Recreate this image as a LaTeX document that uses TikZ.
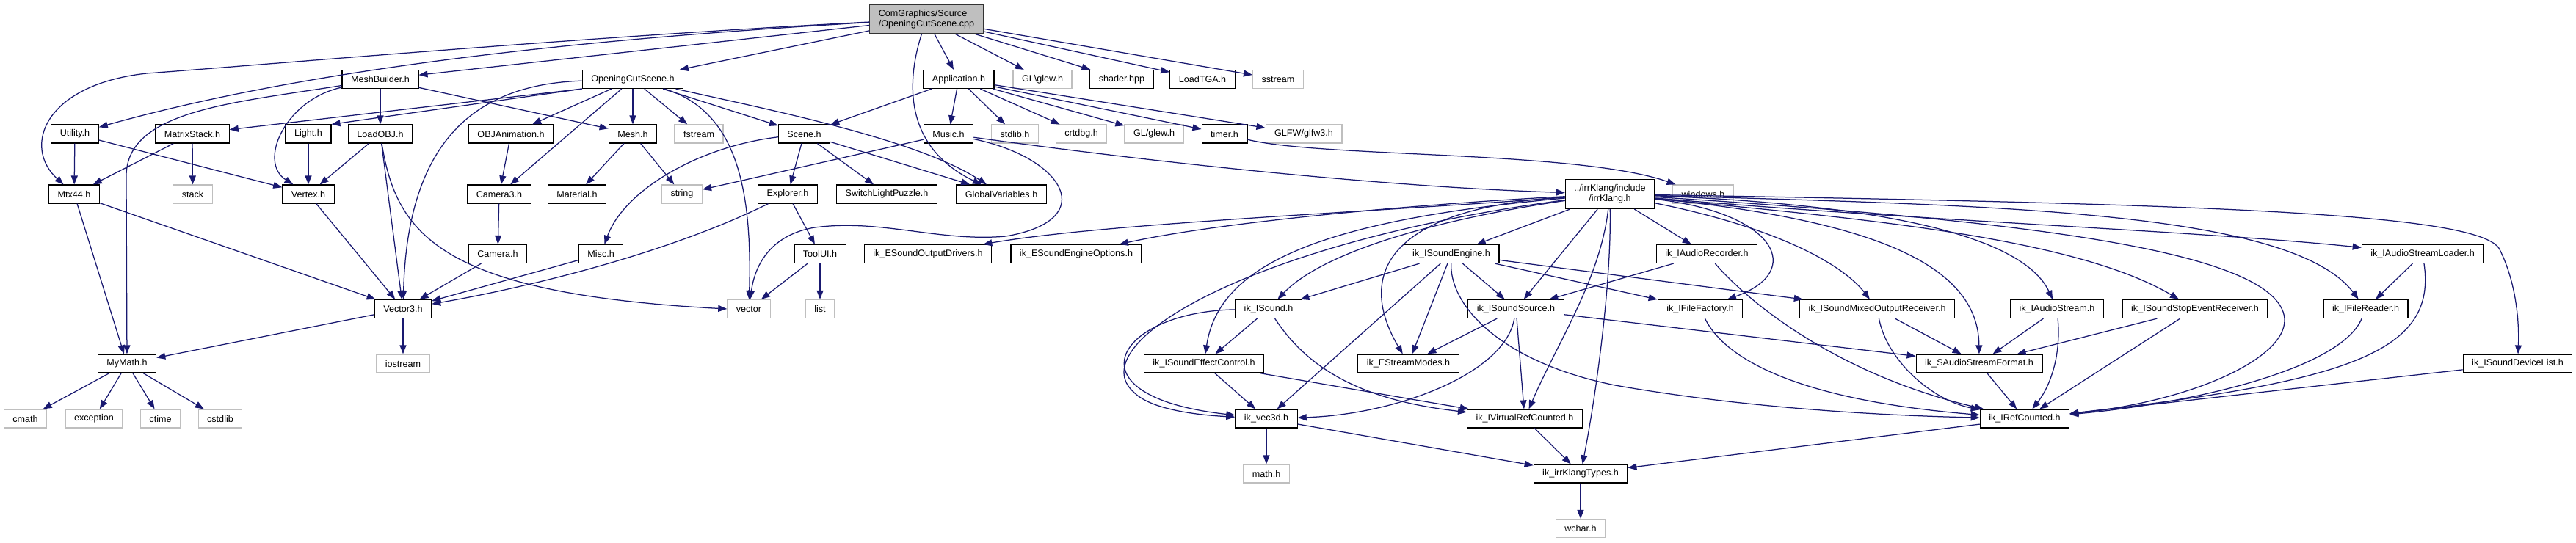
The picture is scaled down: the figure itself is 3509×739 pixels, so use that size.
\documentclass[tikz,border=0pt]{standalone}
\usepackage{fontspec}
\setmainfont{Liberation Sans}
\usetikzlibrary{arrows.meta}
\definecolor{edgeblue}{HTML}{191970}
\definecolor{greyline}{HTML}{BFBFBF}
\begin{document}
\begin{tikzpicture}[x=1pt,y=-1pt,
  fnode/.style={draw=black, line width=1.2pt, fill=white, rectangle, minimum height=25pt,
    inner xsep=12pt, inner ysep=0pt, font=\fontsize{12.6}{14}\selectfont, text=black},
  xnode/.style={fnode, draw=greyline},
  rootnode/.style={fnode, fill=greyline, draw=black!80, minimum height=40pt, align=left},
  twonode/.style={fnode, minimum height=40pt, align=center},
  dep/.style={draw=edgeblue, line width=1.25pt, -{Triangle[length=12pt,width=9pt]}}
]
\fill[white] (0,0) rectangle (3509,739);
\useasboundingbox (0,0) rectangle (3509,739);

% row 0
\node[rootnode] (root) at (1262,26) {ComGraphics/Source\\/OpeningCutScene.cpp};
% row 1
\node[fnode] (mb) at (518,108) {MeshBuilder.h};
\node[fnode] (ocs) at (862,108) {OpeningCutScene.h};
\node[fnode] (app) at (1306,108) {Application.h};
\node[xnode] (glewa) at (1420,108) {GL\textbackslash{}glew.h};
\node[fnode] (shader) at (1528,108) {shader.hpp};
\node[fnode] (tga) at (1638,108) {LoadTGA.h};
\node[xnode] (sstream) at (1741,108) {sstream};
% row 2
\node[fnode] (util) at (102,182.5) {Utility.h};
\node[fnode] (mstack) at (262,182.5) {MatrixStack.h};
\node[fnode] (light) at (420,182.5) {Light.h};
\node[fnode] (lobj) at (518,182.5) {LoadOBJ.h};
\node[fnode] (obja) at (696,182.5) {OBJAnimation.h};
\node[fnode] (mesh) at (862,182.5) {Mesh.h};
\node[xnode] (fstream) at (952,182.5) {fstream};
\node[fnode] (scene) at (1095.5,182.5) {Scene.h};
\node[fnode] (music) at (1292,182.5) {Music.h};
\node[xnode] (stdlib) at (1382.5,182.5) {stdlib.h};
\node[xnode] (crtdbg) at (1473,182.5) {crtdbg.h};
\node[xnode] (glewb) at (1572,182.5) {GL/glew.h};
\node[fnode] (timer) at (1668,182.5) {timer.h};
\node[xnode] (glfw) at (1776,182.5) {GLFW/glfw3.h};
% row 3
\node[fnode] (mtx) at (101,264.5) {Mtx44.h};
\node[xnode] (stack) at (262.5,264.5) {stack};
\node[fnode] (vertex) at (420,264.5) {Vertex.h};
\node[fnode] (cam3) at (680,264.5) {Camera3.h};
\node[fnode] (material) at (786,264.5) {Material.h};
\node[xnode] (string) at (929,264.5) {string};
\node[fnode] (explorer) at (1073,264.5) {Explorer.h};
\node[fnode] (slp) at (1208,264.5) {SwitchLightPuzzle.h};
\node[fnode] (globalv) at (1364,264.5) {GlobalVariables.h};
\node[twonode] (irr) at (2193,264.5) {../irrKlang/include\\/irrKlang.h};
\node[xnode] (windows) at (2320,264.5) {windows.h};
% row 4
\node[fnode] (cam) at (678,346) {Camera.h};
\node[fnode] (misc) at (818.6,346) {Misc.h};
\node[fnode] (toolui) at (1117,346) {ToolUI.h};
\node[fnode] (esod) at (1264,346) {ik\_ESoundOutputDrivers.h};
\node[fnode] (eseo) at (1466,346) {ik\_ESoundEngineOptions.h};
\node[fnode] (ise) at (1977,346) {ik\_ISoundEngine.h};
\node[fnode] (iar) at (2325,346) {ik\_IAudioRecorder.h};
\node[fnode] (iasl) at (3300,346) {ik\_IAudioStreamLoader.h};
% row 5
\node[fnode] (vec3) at (549,421) {Vector3.h};
\node[xnode] (vector) at (1020,421) {vector};
\node[xnode] (list) at (1117,421) {list};
\node[fnode] (isound) at (1728,421) {ik\_ISound.h};
\node[fnode] (iss) at (2065,421) {ik\_ISoundSource.h};
\node[fnode] (iff) at (2316,421) {ik\_IFileFactory.h};
\node[fnode] (ismor) at (2557,421) {ik\_ISoundMixedOutputReceiver.h};
\node[fnode] (ias) at (2802,421) {ik\_IAudioStream.h};
\node[fnode] (isser) at (2990,421) {ik\_ISoundStopEventReceiver.h};
\node[fnode] (ifr) at (3222.5,421) {ik\_IFileReader.h};
% row 6
\node[fnode] (mymath) at (173,495.5) {MyMath.h};
\node[xnode] (iostream) at (549,495.5) {iostream};
\node[fnode] (isec) at (1640,495.5) {ik\_ISoundEffectControl.h};
\node[fnode] (esm) at (1918.5,495.5) {ik\_EStreamModes.h};
\node[fnode] (saf) at (2696,495.5) {ik\_SAudioStreamFormat.h};
\node[fnode] (isdl) at (3429.5,495.5) {ik\_ISoundDeviceList.h};
% row 7
\node[xnode] (cmath) at (34.5,570.5) {cmath};
\node[xnode] (exception) at (128,570.5) {exception};
\node[xnode] (ctime) at (218.5,570.5) {ctime};
\node[xnode] (cstdlib) at (300,570.5) {cstdlib};
\node[fnode] (vec3d) at (1725,570.5) {ik\_vec3d.h};
\node[fnode] (ivrc) at (2077,570.5) {ik\_IVirtualRefCounted.h};
\node[fnode] (irc) at (2758,570.5) {ik\_IRefCounted.h};
% row 8
\node[xnode] (math) at (1725,645.5) {math.h};
\node[fnode] (ikt) at (2153,645.5) {ik\_irrKlangTypes.h};
% row 9
\node[xnode] (wchar) at (2153,720) {wchar.h};

% ---- edges from root
\draw[dep] (root) .. controls (800,50) and (400,85) .. (200,100) .. controls (60,115) and (30,200) .. (mtx);
\draw[dep] (root) .. controls (850,50) and (450,85) .. (util);
\draw[dep] (root) -- (mb);
\draw[dep] (root) -- (ocs);
\draw[dep] (root) -- (app);
\draw[dep] (root) -- (glewa);
\draw[dep] (root) -- (shader);
\draw[dep] (root) -- (tga);
\draw[dep] (root) -- (sstream);
\draw[dep] (root) .. controls (1235,110) and (1230,200) .. (globalv);
% MeshBuilder
\draw[dep] (mb) -- (lobj);
\draw[dep] (mb) .. controls (390,135) and (350,220) .. (vertex);
\draw[dep] (mb) -- (mesh);
\draw[dep] (mb) .. controls (320,140) and (172,150) .. (172,240) -- (mymath);
% OpeningCutScene.h
\draw[dep] (ocs) -- (obja);
\draw[dep] (ocs) -- (cam3);
\draw[dep] (ocs) -- (mesh);
\draw[dep] (ocs) -- (fstream);
\draw[dep] (ocs) -- (scene);
\draw[dep] (ocs) .. controls (1050,150) and (1250,190) .. (globalv);
\draw[dep] (ocs) .. controls (1000,150) and (1025,250) .. (vector);
\draw[dep] (ocs) .. controls (640,115) and (555,200) .. (vec3);
\draw[dep] (ocs.south west) -- (mstack);
\draw[dep] (ocs.south west) -- (light.north east);
% Application.h
\draw[dep] (app) -- (scene);
\draw[dep] (app) -- (music);
\draw[dep] (app) -- (stdlib);
\draw[dep] (app) -- (crtdbg);
\draw[dep] (app) -- (glewb);
\draw[dep] (app) -- (timer);
\draw[dep] (app) -- (glfw);
% Scene.h
\draw[dep] (scene) -- (explorer);
\draw[dep] (scene) -- (slp);
\draw[dep] (scene) -- (globalv);
\draw[dep] (scene) .. controls (950,200) and (850,260) .. (misc);
% Explorer, ToolUI, Misc, Camera
\draw[dep] (explorer) -- (toolui);
\draw[dep] (explorer) .. controls (900,350) and (700,395) .. (vec3);
\draw[dep] (toolui) -- (list);
\draw[dep] (toolui) -- (vector);
\draw[dep] (misc) -- (vec3);
\draw[dep] (cam) -- (vec3);
\draw[dep] (cam3) -- (cam);
\draw[dep] (obja) -- (cam3);
\draw[dep] (mesh) -- (material);
\draw[dep] (mesh) -- (string);
% Music.h
\draw[dep] (music) -- (string);
\draw[dep] (music) .. controls (1600,225) and (1900,255) .. (irr);
\draw[dep] (music) .. controls (1450,215) and (1500,300) .. (1370,322) .. controls (1280,330) and (1200,298) .. (1110,310) .. controls (1060,318) and (1030,350) .. (vector);
% timer
\draw[dep] (timer) .. controls (1800,215) and (2150,205) .. (windows);
% irrKlang.h
\draw[dep] (irr) .. controls (1850,290) and (1500,305) .. (esod);
\draw[dep] (irr) .. controls (1900,280) and (1650,305) .. (eseo);
\draw[dep] (irr) .. controls (1800,300) and (1660,360) .. (isec);
\draw[dep] (irr) .. controls (1700,330) and (1470,470) .. (1545,535) .. controls (1570,560) and (1640,566) .. (vec3d);
\draw[dep] (irr) .. controls (1950,300) and (1800,345) .. (isound);
\draw[dep] (irr) .. controls (1880,285) and (1850,380) .. (esm);
\draw[dep] (irr) -- (ise);
\draw[dep] (irr) -- (iss);
\draw[dep] (irr) .. controls (2180,380) and (2120,470) .. (ivrc);
\draw[dep] (irr) .. controls (2195,400) and (2170,560) .. (ikt);
\draw[dep] (irr) -- (iar);
\draw[dep] (irr) .. controls (2420,290) and (2460,370) .. (iff);
\draw[dep] (irr) .. controls (2420,310) and (2510,360) .. (ismor);
\draw[dep] (irr) .. controls (2600,280) and (2760,330) .. (ias);
\draw[dep] (irr) .. controls (2550,300) and (2695,360) .. (saf);
\draw[dep] (irr) .. controls (2500,295) and (2820,320) .. (isser);
\draw[dep] (irr) .. controls (2700,280) and (3120,285) .. (ifr);
\draw[dep] (irr) .. controls (2600,300) and (3000,315) .. (iasl);
\draw[dep] (irr) .. controls (3000,278) and (3380,290) .. (3405,340) .. controls (3425,380) and (3432,430) .. (isdl);
\draw[dep] (irr) .. controls (2750,300) and (3080,340) .. (3110,425) .. controls (3130,480) and (3000,545) .. (irc);
% ik_ISoundEngine.h
\draw[dep] (ise) -- (isound);
\draw[dep] (ise) -- (vec3d);
\draw[dep] (ise) -- (esm);
\draw[dep] (ise) .. controls (1975,420) and (2050,495) .. (2200,525) .. controls (2400,560) and (2600,567) .. (irc);
\draw[dep] (ise) -- (iss);
\draw[dep] (ise) -- (iff);
\draw[dep] (ise) -- (ismor);
% ik_ISound.h
\draw[dep] (isound) -- (isec);
\draw[dep] (isound) .. controls (1520,425) and (1450,540) .. (vec3d);
\draw[dep] (isound) .. controls (1780,500) and (1850,545) .. (ivrc);
% ik_ISoundEffectControl.h
\draw[dep] (isec) -- (vec3d);
\draw[dep] (isec) -- (ivrc);
% ik_ISoundSource.h
\draw[dep] (iss) -- (esm);
\draw[dep] (iss) .. controls (2050,510) and (1900,565) .. (vec3d);
\draw[dep] (iss) -- (ivrc);
\draw[dep] (iss) -- (saf);
% ik_IAudioRecorder.h
\draw[dep] (iar) -- (iss);
\draw[dep] (iar) .. controls (2380,410) and (2500,510) .. (irc);
% others
\draw[dep] (iff) .. controls (2350,490) and (2450,545) .. (irc);
\draw[dep] (ismor) -- (saf);
\draw[dep] (ismor) .. controls (2570,490) and (2630,545) .. (irc);
\draw[dep] (ias) -- (saf);
\draw[dep] (ias) .. controls (2808,490) and (2790,530) .. (irc);
\draw[dep] (isser) -- (saf);
\draw[dep] (isser) -- (irc);
\draw[dep] (saf) -- (irc);
\draw[dep] (iasl) -- (ifr);
\draw[dep] (iasl) .. controls (3320,480) and (3200,520) .. (irc);
\draw[dep] (ifr) .. controls (3190,500) and (3000,548) .. (irc);
\draw[dep] (isdl) -- (irc);
\draw[dep] (irc) -- (ikt);
\draw[dep] (ivrc) -- (ikt);
\draw[dep] (vec3d) -- (math);
\draw[dep] (vec3d) -- (ikt);
\draw[dep] (ikt) -- (wchar);
% left part
\draw[dep] (util) -- (mtx);
\draw[dep] (util) -- (vertex);
\draw[dep] (mstack) -- (mtx);
\draw[dep] (mstack) -- (stack);
\draw[dep] (light) -- (vertex);
\draw[dep] (lobj) -- (vertex);
\draw[dep] (lobj) -- (vec3);
\draw[dep] (lobj) .. controls (540,320) and (600,400) .. (vector.west);
\draw[dep] (mtx) -- (mymath);
\draw[dep] (mtx) -- (vec3);
\draw[dep] (vertex) -- (vec3);
\draw[dep] (vec3) -- (mymath);
\draw[dep] (vec3) -- (iostream);
\draw[dep] (mymath) -- (cmath);
\draw[dep] (mymath) -- (exception);
\draw[dep] (mymath) -- (ctime);
\draw[dep] (mymath) -- (cstdlib);
\end{tikzpicture}
\end{document}
